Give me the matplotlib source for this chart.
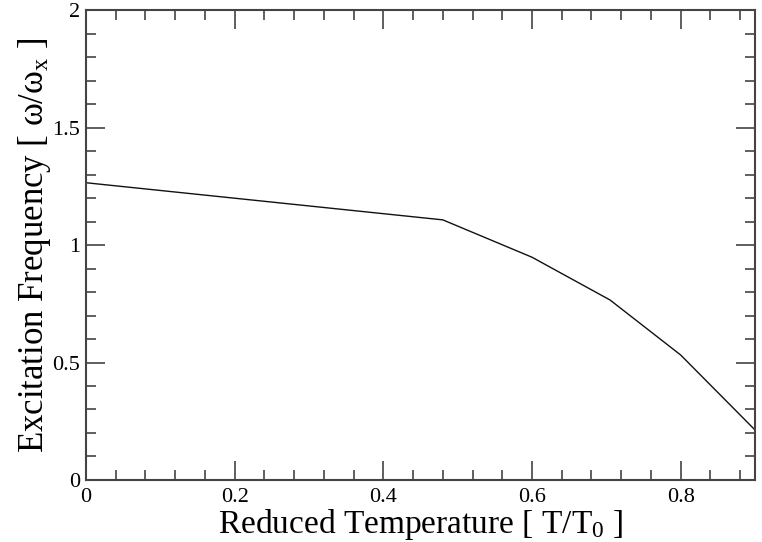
import matplotlib
matplotlib.use("Agg")
import matplotlib.pyplot as plt
from matplotlib.ticker import MultipleLocator

plt.rcParams.update({
    "font.family": "Liberation Serif",
    "mathtext.fontset": "custom",
    "mathtext.rm": "Liberation Serif",
    "mathtext.it": "Liberation Serif:italic",
})

# reduced temperature T/T0 and excitation frequency omega/omega_x
temp = [0.0, 0.48, 0.60, 0.705, 0.80, 0.90]
freq = [1.265, 1.107, 0.948, 0.766, 0.532, 0.213]

fig = plt.figure(figsize=(7.62, 5.42), dpi=100)
ax = fig.add_axes([0.1129, 0.1144, 0.8779, 0.8671])

ax.plot(temp, freq, color="#111111", lw=1.0)

ax.set_xlim(0, 0.9)
ax.set_ylim(0, 2)
ax.xaxis.set_minor_locator(MultipleLocator(0.04))
ax.yaxis.set_minor_locator(MultipleLocator(0.1))
ax.set_xticks([0, 0.2, 0.4, 0.6, 0.8])
ax.set_xticklabels(["0", "0.2", "0.4", "0.6", "0.8"])
ax.set_yticks([0, 0.5, 1, 1.5, 2])
ax.set_yticklabels(["0", "0.5", "1", "1.5", "2"])

ax.tick_params(which="both", direction="in", top=True, right=True,
               color="#444444", width=1.2, labelsize=16)
ax.tick_params(which="major", length=14)
ax.tick_params(which="minor", length=7)
ax.tick_params(axis="x", which="major", pad=6)
ax.tick_params(axis="y", which="major", pad=4)
for sp in ax.spines.values():
    sp.set_color("#444444")
    sp.set_linewidth(1.5)

ax.set_xlabel(r"Reduced Temperature [ T/T$_{\mathrm{0}}$ ]", fontsize=24, labelpad=0)
ax.set_ylabel(r"Excitation Frequency [ ω/ω$_{\mathrm{x}}$ ]", fontsize=25, labelpad=0)

fig.savefig("out.png", dpi=100)
